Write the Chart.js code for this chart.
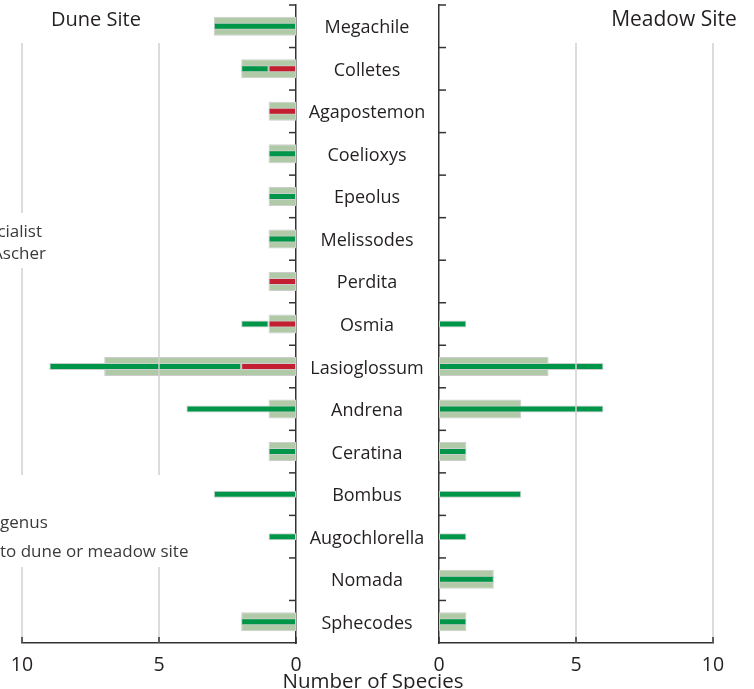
<!DOCTYPE html>
<html lang="en">
<head>
<meta charset="UTF-8">
<title>Bee genera at the Dune Site and the Meadow Site</title>
<script src="https://cdn.jsdelivr.net/npm/chart.js@4.4.1/dist/chart.umd.min.js"></script>
<style>
  body { margin: 0; background: #fff; }
  #wrap { position: relative; width: 754px; height: 689px; overflow: hidden; }
  canvas { position: absolute; left: 0; top: 0; }
</style>
</head>
<body>
<div id="wrap">
  <canvas id="dune" width="754" height="689"></canvas>
  <canvas id="meadow" width="754" height="689"></canvas>
</div>
<script>
// genera, top to bottom
const genera = ['Megachile', 'Colletes', 'Agapostemon', 'Coelioxys', 'Epeolus', 'Melissodes', 'Perdita',
  'Osmia', 'Lasioglossum', 'Andrena', 'Ceratina', 'Bombus', 'Augochlorella', 'Nomada', 'Sphecodes'];

// dune site (left panel)
const duneTotal      = [3, 2, 1, 1, 1, 1, 1, 1, 7, 1, 1, 0, 0, 0, 2];
const duneSpecialist = [0, 1, 1, 0, 0, 0, 1, 1, 2, 0, 0, 0, 0, 0, 0];
const duneOther      = [3, 1, 0, 1, 1, 1, 0, 1, 7, 4, 1, 3, 1, 0, 2];

// meadow site (right panel)
const meadowTotal      = [0, 0, 0, 0, 0, 0, 0, 0, 4, 3, 1, 0, 0, 2, 1];
const meadowSpecialist = [0, 0, 0, 0, 0, 0, 0, 0, 0, 0, 0, 0, 0, 0, 0];
const meadowOther      = [0, 0, 0, 0, 0, 0, 0, 1, 6, 6, 1, 3, 1, 2, 1];

const xTicks = [0, 5, 10];

const GREEN = '#00964a', RED = '#c41f30', GRAY = '#b0caa8', EDGE = '#cdcdcd', INK = '#231f20';
const FONT = '"Open Sans", "Noto Sans", sans-serif';

function makeDatasets(total, spec, other) {
  // red sits next to the axis, green stacks on after it, wide grey bar behind both
  return [
    { label: 'Specialist', data: spec, backgroundColor: RED, stack: 'thin', maxBarThickness: 7 },
    { label: 'Other', data: other, backgroundColor: GREEN, stack: 'thin', maxBarThickness: 7 },
    { label: 'Total', data: total, backgroundColor: GRAY, stack: 'total', maxBarThickness: 19 }
  ].map(d => Object.assign(d, {
    borderColor: EDGE,
    borderWidth: c => (c.raw ? 1 : 0),
    borderSkipped: false,
    grouped: false
  }));
}

function line(ctx, x1, y1, x2, y2) {
  ctx.beginPath(); ctx.moveTo(x1, y1); ctx.lineTo(x2, y2); ctx.stroke();
}

const decor = {
  id: 'decor',
  afterDatasetsDraw(chart, args, opts) {
    const { ctx, chartArea: a, scales: { x, y } } = chart;
    ctx.save();
    // grid lines go over the bars
    ctx.strokeStyle = '#d0d0d0';
    ctx.lineWidth = 1.5;
    [5, 10].forEach(v => { const px = x.getPixelForValue(v); line(ctx, px, 43, px, a.bottom); });

    // inward tick marks
    ctx.strokeStyle = '#333';
    ctx.lineWidth = 1.5;
    const left = opts.side === 'left';
    const edge = left ? a.right : a.left;
    const half = (y.getPixelForValue(1) - y.getPixelForValue(0)) / 2;
    genera.forEach((g, i) => {
      const py = y.getPixelForValue(i) - half;
      line(ctx, edge, py, edge + (left ? -7 : 7), py);
    });
    xTicks.forEach(v => { const px = x.getPixelForValue(v); line(ctx, px, a.bottom, px, a.bottom - 6); });
    ctx.restore();
  },
  afterDraw(chart, args, opts) {
    const { ctx, scales: { y } } = chart;
    ctx.save();
    ctx.fillStyle = INK;
    ctx.textBaseline = 'alphabetic';
    if (opts.side === 'left') {
      ctx.font = '20px ' + FONT;
      ctx.textAlign = 'center';
      ctx.fillText('Dune Site', 96, 26);

      ctx.font = '18px ' + FONT;
      genera.forEach((g, i) => ctx.fillText(g, 367, y.getPixelForValue(i) + 7));

      ctx.font = '20.5px ' + FONT;
      ctx.fillText('Number of Species', 373, 688);

      // legend, mostly outside the frame
      ctx.fillStyle = '#fff';
      ctx.fillRect(0, 213, 50, 55);
      ctx.fillRect(0, 475, 192, 92);
      ctx.fillStyle = '#3a3a3a';
      ctx.font = '17px ' + FONT;
      ctx.textAlign = 'right';
      ctx.fillText('Specialist', 42, 237);
      ctx.fillText('Ascher', 46, 259);
      ctx.textAlign = 'left';
      ctx.fillText('genus', 0, 528);
      ctx.fillText('to dune or meadow site', 0, 557);
    } else {
      ctx.font = '21px ' + FONT;
      ctx.textAlign = 'center';
      ctx.fillText('Meadow Site', 674, 26);
    }
    ctx.restore();
  }
};

function makeChart(id, side, total, spec, other) {
  const left = side === 'left';
  return new Chart(document.getElementById(id), {
    type: 'bar',
    data: { labels: genera, datasets: makeDatasets(total, spec, other) },
    options: {
      indexAxis: 'y',
      responsive: false,
      animation: false,
      devicePixelRatio: 1,
      layout: { padding: left ? { left: 22, right: 458, top: 5, bottom: 0 } : { left: 439, right: 41, top: 5, bottom: 0 } },
      plugins: { legend: { display: false }, tooltip: { enabled: false }, decor: { side: side } },
      scales: {
        x: {
          type: 'linear',
          stacked: true,
          reverse: left,
          min: 0,
          max: 10,
          afterBuildTicks: s => { s.ticks = xTicks.map(v => ({ value: v })); },
          afterFit: s => { s.height = 46; },
          ticks: { font: { family: FONT, size: 19.5 }, color: INK, padding: 3 },
          grid: { display: false },
          border: { display: true, color: '#333', width: 1.5 }
        },
        y: {
          position: left ? 'right' : 'left',
          stacked: false,
          afterFit: s => { s.width = 0; },
          ticks: { display: false },
          grid: { display: false },
          border: { display: true, color: '#333', width: 1.5 }
        }
      }
    },
    plugins: [decor]
  });
}

makeChart('dune', 'left', duneTotal, duneSpecialist, duneOther);
makeChart('meadow', 'right', meadowTotal, meadowSpecialist, meadowOther);
</script>
</body>
</html>
